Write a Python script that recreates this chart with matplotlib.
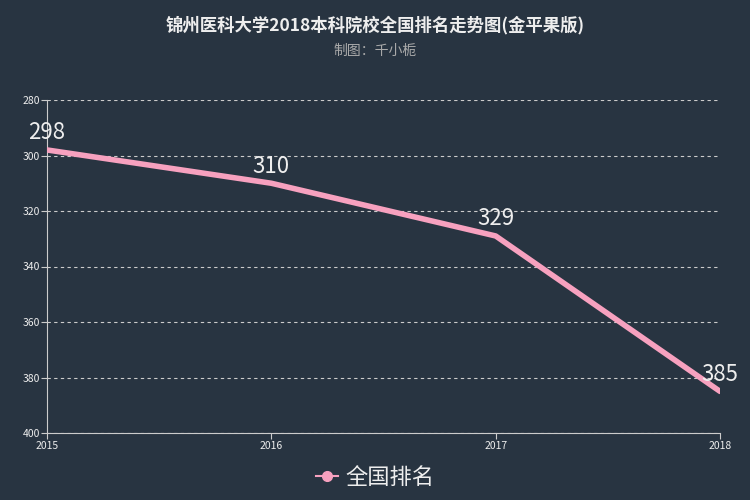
import matplotlib
matplotlib.use('Agg')
import matplotlib.pyplot as plt
from matplotlib.lines import Line2D

plt.rcParams['font.family'] = ['Noto Sans CJK SC', 'DejaVu Sans']

years = ['2015', '2016', '2017', '2018']
ranks = [298, 310, 329, 385]
y_ticks = [280, 300, 320, 340, 360, 380, 400]

bg = '#283441'
pink = '#f7a1bf'

fig = plt.figure(figsize=(7.5, 5), dpi=100, facecolor=bg)
ax = fig.add_axes([0.0627, 0.134, 0.8973, 0.666], facecolor=bg)

x = list(range(len(years)))
ax.plot(x, ranks, color=pink, lw=4, solid_capstyle='round', solid_joinstyle='round', zorder=3)
for xi, v in zip(x, ranks):
    ax.text(xi, v - 2.0, str(v), color='#eeeeee', fontsize=16, ha='center', va='bottom', zorder=4)

ax.set_xlim(0, len(years) - 1)
ax.set_ylim(400, 280)
ax.set_xticks(x)
ax.set_xticklabels(years)
ax.set_yticks(y_ticks)
ax.tick_params(colors='#cccccc', labelsize=7.5, length=4, width=0.8, labelcolor='#eeeeee')
ax.tick_params(axis='x', pad=2)
ax.tick_params(axis='y', pad=1)
ax.grid(axis='y', color='#cccccc', ls=(0, (3, 3)), lw=0.8)
for s in ['top', 'right']:
    ax.spines[s].set_visible(False)
for s in ['left', 'bottom']:
    ax.spines[s].set_color('#cccccc')

fig.text(0.5, 0.95, '锦州医科大学2018本科院校全国排名走势图(金平果版)', color='#eeeeee',
         fontsize=12.5, fontweight='bold', ha='center', va='center')
fig.text(0.5, 0.898, '制图：千小栀', color='#aaaaaa', fontsize=10, ha='center', va='center')

handle = Line2D([], [], color=pink, lw=1.5, marker='o', markersize=7,
                markerfacecolor=pink, markeredgecolor=pink)
leg = fig.legend([handle], ['全国排名'], loc='center', bbox_to_anchor=(0.5, 0.045),
                 frameon=False, fontsize=16, handlelength=1.0, handletextpad=0.3,
                 labelcolor='#eeeeee')

fig.savefig('out.png', dpi=100, facecolor=bg)
